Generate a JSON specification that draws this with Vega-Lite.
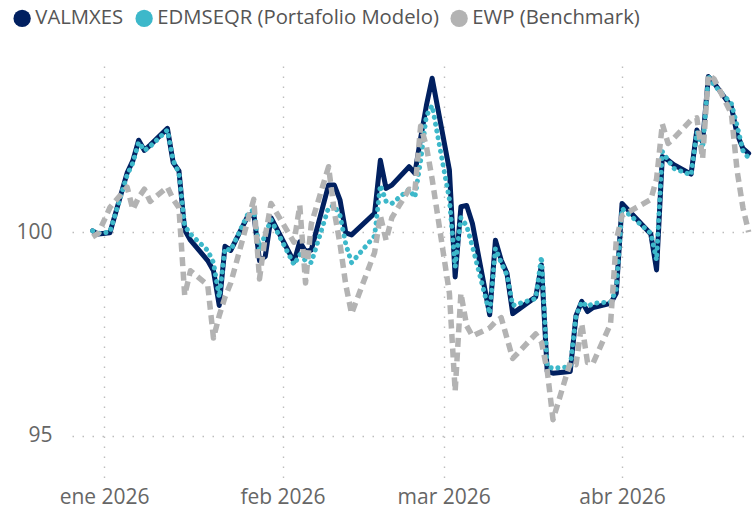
{
  "$schema": "https://vega.github.io/schema/vega-lite/v6.json",
  "autosize": {"type": "none"},
  "width": 680,
  "height": 412,
  "padding": {"left": 72, "top": 66, "right": 0, "bottom": 30},
  "background": "white",
  "config": {
    "view": {"stroke": null},
    "font": "Open Sans",
    "axis": {"labelFont": "Open Sans", "labelColor": "#666666", "labelFontSize": 21, "domain": false, "ticks": false, "tickSize": 0, "gridColor": "#bdbdbd", "gridDash": [1.5, 8.5], "gridWidth": 1.4, "title": null}
  },
  "data": {"values": [
    {"d": "2025-12-30", "VALMXES": 100.03, "EDMSEQR": 100.03, "EWP": 99.88},
    {"d": "2025-12-31", "VALMXES": 99.95, "EDMSEQR": 99.97, "EWP": 99.97},
    {"d": "2026-01-02", "VALMXES": 99.98, "EDMSEQR": 100.0, "EWP": 100.6},
    {"d": "2026-01-05", "VALMXES": 101.45, "EDMSEQR": 101.4, "EWP": 101.1},
    {"d": "2026-01-06", "VALMXES": 101.75, "EDMSEQR": 101.7, "EWP": 100.55},
    {"d": "2026-01-07", "VALMXES": 102.25, "EDMSEQR": 102.2, "EWP": 100.85},
    {"d": "2026-01-08", "VALMXES": 102.0, "EDMSEQR": 102.0, "EWP": 101.05},
    {"d": "2026-01-09", "VALMXES": 102.13, "EDMSEQR": 102.1, "EWP": 100.75},
    {"d": "2026-01-12", "VALMXES": 102.54, "EDMSEQR": 102.5, "EWP": 101.1},
    {"d": "2026-01-13", "VALMXES": 101.7, "EDMSEQR": 101.75, "EWP": 100.8},
    {"d": "2026-01-14", "VALMXES": 101.5, "EDMSEQR": 101.45, "EWP": 100.6},
    {"d": "2026-01-15", "VALMXES": 100.05, "EDMSEQR": 100.15, "EWP": 98.45},
    {"d": "2026-01-16", "VALMXES": 99.8, "EDMSEQR": 99.95, "EWP": 99.05},
    {"d": "2026-01-19", "VALMXES": 99.3, "EDMSEQR": 99.55, "EWP": 98.7},
    {"d": "2026-01-20", "VALMXES": 99.05, "EDMSEQR": 99.25, "EWP": 97.4},
    {"d": "2026-01-21", "VALMXES": 98.2, "EDMSEQR": 98.4, "EWP": 97.95},
    {"d": "2026-01-22", "VALMXES": 99.65, "EDMSEQR": 99.6, "EWP": 98.4},
    {"d": "2026-01-23", "VALMXES": 99.55, "EDMSEQR": 99.55, "EWP": 98.75},
    {"d": "2026-01-26", "VALMXES": 100.4, "EDMSEQR": 100.45, "EWP": 100.3},
    {"d": "2026-01-27", "VALMXES": 100.45, "EDMSEQR": 100.55, "EWP": 100.8},
    {"d": "2026-01-28", "VALMXES": 99.3, "EDMSEQR": 99.55, "EWP": 98.85},
    {"d": "2026-01-29", "VALMXES": 99.4, "EDMSEQR": 99.95, "EWP": 99.9},
    {"d": "2026-01-30", "VALMXES": 100.35, "EDMSEQR": 100.3, "EWP": 100.7},
    {"d": "2026-02-03", "VALMXES": 99.27, "EDMSEQR": 99.2, "EWP": 99.75},
    {"d": "2026-02-04", "VALMXES": 99.76, "EDMSEQR": 99.45, "EWP": 100.65},
    {"d": "2026-02-05", "VALMXES": 99.52, "EDMSEQR": 99.3, "EWP": 98.75},
    {"d": "2026-02-06", "VALMXES": 99.56, "EDMSEQR": 99.25, "EWP": 100.2},
    {"d": "2026-02-09", "VALMXES": 101.15, "EDMSEQR": 100.6, "EWP": 101.6},
    {"d": "2026-02-10", "VALMXES": 101.15, "EDMSEQR": 100.65, "EWP": 100.5},
    {"d": "2026-02-11", "VALMXES": 100.78, "EDMSEQR": 100.4, "EWP": 99.7},
    {"d": "2026-02-12", "VALMXES": 99.98, "EDMSEQR": 99.7, "EWP": 98.7},
    {"d": "2026-02-13", "VALMXES": 99.93, "EDMSEQR": 99.25, "EWP": 98.0},
    {"d": "2026-02-17", "VALMXES": 100.46, "EDMSEQR": 99.9, "EWP": 99.5},
    {"d": "2026-02-18", "VALMXES": 101.76, "EDMSEQR": 101.15, "EWP": 100.4},
    {"d": "2026-02-19", "VALMXES": 101.07, "EDMSEQR": 100.75, "EWP": 99.8},
    {"d": "2026-02-20", "VALMXES": 101.15, "EDMSEQR": 100.7, "EWP": 100.35},
    {"d": "2026-02-23", "VALMXES": 101.6, "EDMSEQR": 101.05, "EWP": 101.05},
    {"d": "2026-02-24", "VALMXES": 101.44, "EDMSEQR": 100.85, "EWP": 101.0},
    {"d": "2026-02-25", "VALMXES": 102.3, "EDMSEQR": 101.75, "EWP": 102.6},
    {"d": "2026-02-26", "VALMXES": 103.1, "EDMSEQR": 102.85, "EWP": 102.1},
    {"d": "2026-02-27", "VALMXES": 103.77, "EDMSEQR": 103.1, "EWP": 101.3},
    {"d": "2026-03-02", "VALMXES": 101.52, "EDMSEQR": 100.8, "EWP": 98.5},
    {"d": "2026-03-03", "VALMXES": 98.9, "EDMSEQR": 99.15, "EWP": 96.1},
    {"d": "2026-03-04", "VALMXES": 100.62, "EDMSEQR": 100.35, "EWP": 98.5},
    {"d": "2026-03-05", "VALMXES": 100.65, "EDMSEQR": 100.15, "EWP": 97.7},
    {"d": "2026-03-06", "VALMXES": 100.21, "EDMSEQR": 99.65, "EWP": 97.45},
    {"d": "2026-03-09", "VALMXES": 97.97, "EDMSEQR": 98.0, "EWP": 97.65},
    {"d": "2026-03-10", "VALMXES": 99.8, "EDMSEQR": 99.6, "EWP": 97.8},
    {"d": "2026-03-11", "VALMXES": 99.31, "EDMSEQR": 99.25, "EWP": 97.9},
    {"d": "2026-03-12", "VALMXES": 98.99, "EDMSEQR": 98.95, "EWP": 97.4},
    {"d": "2026-03-13", "VALMXES": 98.0, "EDMSEQR": 98.2, "EWP": 96.9},
    {"d": "2026-03-17", "VALMXES": 98.41, "EDMSEQR": 98.37, "EWP": 97.5},
    {"d": "2026-03-18", "VALMXES": 99.19, "EDMSEQR": 99.4, "EWP": 97.3},
    {"d": "2026-03-19", "VALMXES": 96.58, "EDMSEQR": 96.7, "EWP": 96.6},
    {"d": "2026-03-20", "VALMXES": 96.54, "EDMSEQR": 96.66, "EWP": 95.4},
    {"d": "2026-03-23", "VALMXES": 96.58, "EDMSEQR": 96.7, "EWP": 96.8},
    {"d": "2026-03-24", "VALMXES": 97.95, "EDMSEQR": 97.95, "EWP": 96.75},
    {"d": "2026-03-25", "VALMXES": 98.3, "EDMSEQR": 98.29, "EWP": 97.75},
    {"d": "2026-03-26", "VALMXES": 98.05, "EDMSEQR": 98.17, "EWP": 96.8},
    {"d": "2026-03-27", "VALMXES": 98.15, "EDMSEQR": 98.25, "EWP": 96.8},
    {"d": "2026-03-30", "VALMXES": 98.25, "EDMSEQR": 98.29, "EWP": 97.75},
    {"d": "2026-03-31", "VALMXES": 98.5, "EDMSEQR": 98.58, "EWP": 99.8},
    {"d": "2026-04-01", "VALMXES": 100.7, "EDMSEQR": 100.58, "EWP": 100.4},
    {"d": "2026-04-06", "VALMXES": 99.95, "EDMSEQR": 99.97, "EWP": 100.8},
    {"d": "2026-04-07", "VALMXES": 99.07, "EDMSEQR": 99.31, "EWP": 101.3},
    {"d": "2026-04-08", "VALMXES": 101.85, "EDMSEQR": 101.97, "EWP": 102.65},
    {"d": "2026-04-09", "VALMXES": 101.76, "EDMSEQR": 101.76, "EWP": 102.17},
    {"d": "2026-04-10", "VALMXES": 101.65, "EDMSEQR": 101.56, "EWP": 102.3},
    {"d": "2026-04-13", "VALMXES": 101.42, "EDMSEQR": 101.4, "EWP": 102.75},
    {"d": "2026-04-14", "VALMXES": 102.5, "EDMSEQR": 102.45, "EWP": 102.8},
    {"d": "2026-04-15", "VALMXES": 102.21, "EDMSEQR": 102.05, "EWP": 101.8},
    {"d": "2026-04-16", "VALMXES": 103.81, "EDMSEQR": 103.81, "EWP": 103.85},
    {"d": "2026-04-17", "VALMXES": 103.65, "EDMSEQR": 103.6, "EWP": 103.75},
    {"d": "2026-04-20", "VALMXES": 103.07, "EDMSEQR": 103.15, "EWP": 102.9},
    {"d": "2026-04-21", "VALMXES": 102.4, "EDMSEQR": 102.6, "EWP": 101.5},
    {"d": "2026-04-22", "VALMXES": 102.05, "EDMSEQR": 102.0, "EWP": 100.6},
    {"d": "2026-04-23", "VALMXES": 101.93, "EDMSEQR": 101.81, "EWP": 100.0}
  ]},
  "transform": [{"fold": ["VALMXES", "EDMSEQR", "EWP"], "as": ["serie", "valor"]}],
  "encoding": {
    "x": {
      "field": "d", "type": "temporal",
      "scale": {"type": "utc", "domain": [{"year": 2025, "month": 12, "date": 26, "hours": 10, "utc": true}, {"year": 2026, "month": 4, "date": 23, "hours": 14, "utc": true}]},
      "axis": {
        "values": [{"year": 2026, "month": 1, "date": 1, "utc": true}, {"year": 2026, "month": 2, "date": 1, "utc": true}, {"year": 2026, "month": 3, "date": 1, "utc": true}, {"year": 2026, "month": 4, "date": 1, "utc": true}],
        "labelExpr": "['ene','feb','mar','abr','may','jun','jul','ago','sep','oct','nov','dic'][utcmonth(datum.value)] + ' ' + utcyear(datum.value)",
        "labelBaseline": "alphabetic", "labelPadding": 25, "labelOverlap": false, "labelFlush": false, "labelFontSize": 21, "grid": true
      }
    },
    "y": {
      "field": "valor", "type": "quantitative",
      "scale": {"domain": [93.97, 104.07], "nice": false, "zero": false},
      "axis": {"values": [95, 100], "labelPadding": 20, "grid": true}
    },
    "color": {
      "field": "serie", "type": "nominal",
      "scale": {"domain": ["VALMXES", "EDMSEQR", "EWP"], "range": ["#012060", "#3DB8CA", "#B3B3B3"]},
      "legend": {
        "title": null, "orient": "none", "direction": "horizontal", "legendX": -60, "legendY": -58,
        "symbolType": "circle", "symbolSize": 300, "symbolStrokeWidth": 0, "symbolOpacity": 1,
        "labelFont": "Open Sans", "labelFontSize": 20.3, "labelColor": "#555555", "labelOffset": 3, "labelLimit": 0, "columnPadding": 10, "padding": 0,
        "labelExpr": "datum.label == 'EDMSEQR' ? 'EDMSEQR (Portafolio Modelo)' : datum.label == 'EWP' ? 'EWP (Benchmark)' : datum.label",
        "encode": {"symbols": {"update": {"fill": {"scale": "color", "field": "value"}, "strokeWidth": {"value": 0}}}}
      }
    }
  },
  "layer": [
    {"transform": [{"filter": "datum.serie == 'VALMXES'"}], "mark": {"type": "line", "strokeWidth": 5, "strokeJoin": "round", "strokeCap": "round"}},
    {"transform": [{"filter": "datum.serie == 'EDMSEQR'"}], "mark": {"type": "line", "strokeWidth": 5, "strokeDash": [0.1, 6.8], "strokeCap": "round", "strokeJoin": "round"}},
    {"transform": [{"filter": "datum.serie == 'EWP'"}], "mark": {"type": "line", "strokeWidth": 5.5, "strokeDash": [9, 5.5], "strokeCap": "butt", "strokeJoin": "round"}}
  ]
}
